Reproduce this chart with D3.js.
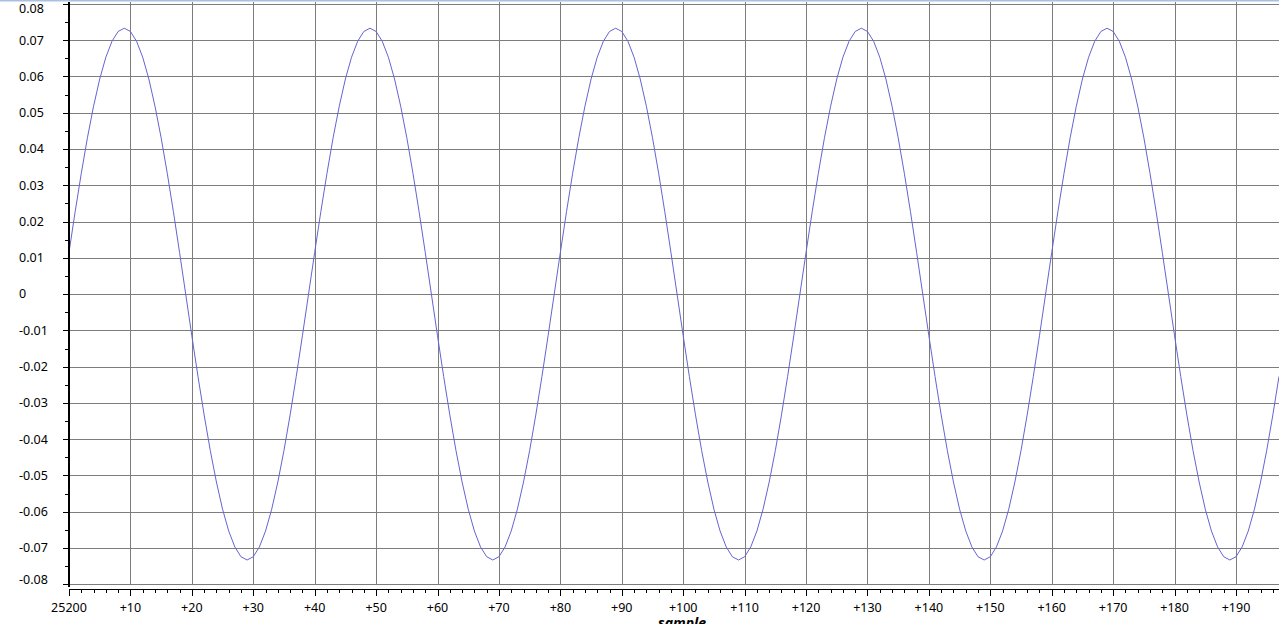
<!DOCTYPE html>
<html>
<head>
<meta charset="utf-8">
<script src="https://cdn.jsdelivr.net/npm/d3@7"></script>
<style>
  html, body { margin: 0; padding: 0; background: #ffffff; overflow: hidden; }
  svg { display: block; }
</style>
</head>
<body>
<svg id="chart" width="1279" height="624"></svg>
<script>
// ---- data ----
const startSample = 25200;
const sampleValues = [
  0.0115, 0.0227, 0.0333, 0.0431, 0.0518, 0.0593, 0.0653, 0.0697, 0.0724, 0.0733,
  0.0724, 0.0697, 0.0653, 0.0593, 0.0518, 0.0431, 0.0333, 0.0227, 0.0115, 0.0,
  -0.0115, -0.0227, -0.0333, -0.0431, -0.0518, -0.0593, -0.0653, -0.0697, -0.0724, -0.0733,
  -0.0724, -0.0697, -0.0653, -0.0593, -0.0518, -0.0431, -0.0333, -0.0227, -0.0115, 0.0,
  0.0115, 0.0227, 0.0333, 0.0431, 0.0518, 0.0593, 0.0653, 0.0697, 0.0724, 0.0733,
  0.0724, 0.0697, 0.0653, 0.0593, 0.0518, 0.0431, 0.0333, 0.0227, 0.0115, 0.0,
  -0.0115, -0.0227, -0.0333, -0.0431, -0.0518, -0.0593, -0.0653, -0.0697, -0.0724, -0.0733,
  -0.0724, -0.0697, -0.0653, -0.0593, -0.0518, -0.0431, -0.0333, -0.0227, -0.0115, 0.0,
  0.0115, 0.0227, 0.0333, 0.0431, 0.0518, 0.0593, 0.0653, 0.0697, 0.0724, 0.0733,
  0.0724, 0.0697, 0.0653, 0.0593, 0.0518, 0.0431, 0.0333, 0.0227, 0.0115, 0.0,
  -0.0115, -0.0227, -0.0333, -0.0431, -0.0518, -0.0593, -0.0653, -0.0697, -0.0724, -0.0733,
  -0.0724, -0.0697, -0.0653, -0.0593, -0.0518, -0.0431, -0.0333, -0.0227, -0.0115, 0.0,
  0.0115, 0.0227, 0.0333, 0.0431, 0.0518, 0.0593, 0.0653, 0.0697, 0.0724, 0.0733,
  0.0724, 0.0697, 0.0653, 0.0593, 0.0518, 0.0431, 0.0333, 0.0227, 0.0115, 0.0,
  -0.0115, -0.0227, -0.0333, -0.0431, -0.0518, -0.0593, -0.0653, -0.0697, -0.0724, -0.0733,
  -0.0724, -0.0697, -0.0653, -0.0593, -0.0518, -0.0431, -0.0333, -0.0227, -0.0115, 0.0,
  0.0115, 0.0227, 0.0333, 0.0431, 0.0518, 0.0593, 0.0653, 0.0697, 0.0724, 0.0733,
  0.0724, 0.0697, 0.0653, 0.0593, 0.0518, 0.0431, 0.0333, 0.0227, 0.0115, 0.0,
  -0.0115, -0.0227, -0.0333, -0.0431, -0.0518, -0.0593, -0.0653, -0.0697, -0.0724, -0.0733,
  -0.0724, -0.0697, -0.0653, -0.0593, -0.0518, -0.0431, -0.0333, -0.0227
];
const xTickValues = [0, 10, 20, 30, 40, 50, 60, 70, 80, 90, 100, 110, 120, 130, 140, 150, 160, 170, 180, 190];
const xTickLabels = ["25200", "+10", "+20", "+30", "+40", "+50", "+60", "+70", "+80", "+90",
                     "+100", "+110", "+120", "+130", "+140", "+150", "+160", "+170", "+180", "+190"];
const yTickValues = [0.08, 0.07, 0.06, 0.05, 0.04, 0.03, 0.02, 0.01, 0, -0.01, -0.02, -0.03, -0.04, -0.05, -0.06, -0.07, -0.08];
const yTickLabels = ["0.08", "0.07", "0.06", "0.05", "0.04", "0.03", "0.02", "0.01", "0",
                     "-0.01", "-0.02", "-0.03", "-0.04", "-0.05", "-0.06", "-0.07", "-0.08"];
const xAxisTitle = "sample";

// ---- layout ----
const W = 1279, H = 624;
const plotLeft = 69, plotRight = 1279, plotTop = 3.9, plotBottom = 584.3;
const xAxisY = 589;
const font = "'Noto Sans', 'Open Sans', sans-serif";

const svg = d3.select("#chart");

const x = d3.scaleLinear().domain([0, 197]).range([plotLeft, plotRight]);
const y = d3.scaleLinear().domain([-0.08, 0.08]).range([plotBottom, plotTop]);

// top window border
svg.append("rect").attr("x", 0).attr("y", 0).attr("width", W).attr("height", 1.5)
  .attr("fill", "#a9c0e2");

// grid
const grid = svg.append("g").attr("stroke", "#7d7d7d").attr("stroke-width", 1).attr("shape-rendering", "crispEdges");
grid.selectAll("line.h").data(yTickValues).join("line")
  .attr("class", "h")
  .attr("x1", plotLeft).attr("x2", plotRight)
  .attr("y1", d => Math.round(y(d)) + 0.5).attr("y2", d => Math.round(y(d)) + 0.5);
grid.selectAll("line.v").data(xTickValues.filter(d => d > 0)).join("line")
  .attr("class", "v")
  .attr("y1", 2).attr("y2", plotBottom + 0.5)
  .attr("x1", d => Math.round(x(d)) + 0.5).attr("x2", d => Math.round(x(d)) + 0.5);

// series line
const clip = svg.append("clipPath").attr("id", "clip").append("rect")
  .attr("x", plotLeft).attr("y", 0).attr("width", plotRight - plotLeft).attr("height", plotBottom + 2);
const line = d3.line().x((d, i) => x(i)).y(d => y(d));
svg.append("path")
  .datum(sampleValues)
  .attr("clip-path", "url(#clip)")
  .attr("d", line)
  .attr("fill", "none")
  .attr("stroke", "#6464d2")
  .attr("stroke-width", 1);

// Y axis
const yMinor = d3.range(-0.08, 0.0801, 0.005).map(v => +v.toFixed(3));
const yAxisG = svg.append("g").attr("shape-rendering", "crispEdges");
yAxisG.append("line").attr("x1", 68.5).attr("x2", 68.5).attr("y1", 2).attr("y2", 587)
  .attr("stroke", "#000").attr("stroke-width", 2);
yAxisG.selectAll("line.ym").data(yMinor).join("line")
  .attr("class", "ym")
  .attr("x1", d => (Math.abs(Math.round(d * 100) - d * 100) < 1e-6) ? 62.5 : 64.5)
  .attr("x2", 68)
  .attr("y1", d => Math.round(y(d)) + 0.5).attr("y2", d => Math.round(y(d)) + 0.5)
  .attr("stroke", "#000").attr("stroke-width", 1);
yAxisG.selectAll("text").data(yTickValues).join("text")
  .attr("x", 19)
  .attr("y", d => Math.min(Math.max(y(d), 9), 580))
  .attr("dy", "0.35em")
  .attr("font-family", font).attr("font-size", 12.5).attr("fill", "#000")
  .text((d, i) => yTickLabels[i]);

// X axis
const xMinor = d3.range(0, 198, 2);
const xAxisG = svg.append("g").attr("shape-rendering", "crispEdges");
xAxisG.append("line").attr("x1", plotLeft).attr("x2", plotRight)
  .attr("y1", xAxisY + 0.5).attr("y2", xAxisY + 0.5)
  .attr("stroke", "#000").attr("stroke-width", 1);
xAxisG.selectAll("line.xm").data(xMinor).join("line")
  .attr("class", "xm")
  .attr("x1", d => Math.round(x(d)) + 0.5).attr("x2", d => Math.round(x(d)) + 0.5)
  .attr("y1", xAxisY).attr("y2", d => d % 10 === 0 ? 596 : 593)
  .attr("stroke", "#000").attr("stroke-width", d => d % 10 === 0 ? 1.5 : 1);
xAxisG.selectAll("text").data(xTickValues).join("text")
  .attr("x", d => x(d))
  .attr("y", 612)
  .attr("text-anchor", "middle")
  .attr("font-family", font).attr("font-size", 12.5).attr("fill", "#000")
  .text((d, i) => xTickLabels[i]);

// X axis title (partly cut off at the bottom edge)
svg.append("text")
  .attr("x", 682).attr("y", 628)
  .attr("text-anchor", "middle")
  .attr("font-family", font).attr("font-size", 14)
  .attr("font-weight", "bold").attr("font-style", "italic")
  .attr("fill", "#000")
  .text(xAxisTitle);
</script>
</body>
</html>
